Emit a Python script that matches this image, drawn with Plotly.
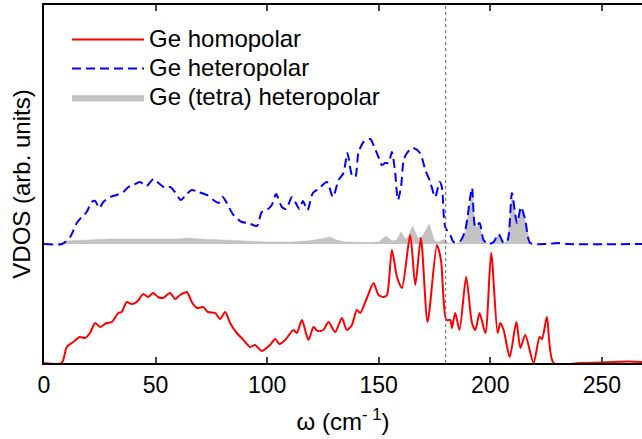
import plotly.graph_objects as go

# ---- data ----
omega_red = [0, 7.9, 10.2, 13.1, 16.1, 18.4, 20.6, 22.9, 25.1, 28.1, 30.4, 33.3, 34.8, 37.1, 39.3, 41.6,
             44.5, 46.6, 48.9, 51.1, 53.4, 56.5, 58.7, 61, 64, 66.2, 68.5, 71.3, 73.5, 76.7, 78.9, 81.2,
             83.4, 86.4, 89.0, 92.4, 94.6, 97.6, 101.3, 103.6, 105.5, 108.1, 111.8, 113.3, 115.6, 118.5,
             120.8, 122.6, 125.2, 127.5, 130.5, 133.5, 135.7, 138, 140.2, 141.7, 144.7, 147.7, 149.9,
             152.2, 153.7, 155.9, 158.2, 160.4, 164.1, 166.4, 168.9, 171.9, 176.1, 177.9, 180.3, 182.1,
             182.8, 184.3, 186.2, 189.2, 191.8, 193.3, 195.2, 197.8, 200.4, 203.3, 204.5, 206, 208.7,
             211.7, 213.5, 215.7, 219.4, 222.1, 223.2, 225.4, 228.4, 240, 255, 262, 268]
vdos_red = [0, 0, 0.16, 0.21, 0.26, 0.25, 0.30, 0.40, 0.36, 0.40, 0.41, 0.50, 0.51, 0.61, 0.59, 0.61,
            0.69, 0.66, 0.70, 0.66, 0.65, 0.70, 0.64, 0.68, 0.71, 0.61, 0.55, 0.56, 0.51, 0.50, 0.44, 0.51,
            0.40, 0.30, 0.24, 0.16, 0.18, 0.12, 0.18, 0.24, 0.19, 0.23, 0.33, 0.30, 0.43, 0.23,
            0.36, 0.32, 0.33, 0.41, 0.31, 0.45, 0.33, 0.38, 0.53, 0.50, 0.65, 0.80, 0.68,
            0.66, 0.68, 1.13, 0.86, 0.75, 1.28, 0.78, 1.25, 0.41, 1.18, 1.03, 0.43, 0.43,
            0.35, 0.50, 0.33, 0.86, 0.40, 0.33, 0.50, 0.30, 1.10, 0.30, 0.40, 0.33, 0.06,
            0.41, 0.15, 0.28, 0.0, 0.26, 0.24, 0.46, 0.0, 0.0, 0.01, 0.015, 0.01]

omega_blue = [0, 8, 11.7, 14.7, 16.9, 19.1, 21.4, 22.9, 24.8, 26.6, 29.6, 32.6, 35.6, 37.8, 40, 43, 46, 49,
              51.3, 54.3, 56.5, 58.7, 61.3, 64, 66.2, 69.2, 73, 75.9, 78.2, 80.1, 81.9, 84.9, 88.7, 91.6,
              95.4, 97.6, 99.9, 102.1, 104.0, 106.6, 108.5, 111.1, 112.6, 114.5, 116.0, 118.1, 120.5,
              123.0, 126.8, 129.5, 132.0, 134.2, 136.0, 138.0, 139.5, 140.9, 143.2, 146.2, 148.0, 149.9,
              151.4, 152.9, 154.4, 155.9, 157.4, 158.6, 160.0, 161.2, 162.7, 165.3, 168.5, 170.9, 173.1,
              175.3, 177.3, 178.3, 179.8, 182.1, 183.5, 186.5, 188.8, 191.8, 193.3, 195.2, 197.0, 199.2,
              201.5, 203.7, 206.0, 207.8, 209.7, 212.0, 213.8, 215.7, 217.9, 225, 230, 235, 268]
vdos_blue = [0, 0, 0.07, 0.21, 0.27, 0.32, 0.42, 0.43, 0.36, 0.42, 0.47, 0.49, 0.52, 0.57, 0.59, 0.62, 0.58, 0.65,
             0.61, 0.56, 0.57, 0.52, 0.44, 0.50, 0.54, 0.52, 0.49, 0.44, 0.41, 0.47, 0.41, 0.29, 0.22, 0.21,
             0.18, 0.32, 0.34, 0.39, 0.50, 0.37, 0.35, 0.47, 0.42, 0.35, 0.43, 0.34, 0.51,
             0.55, 0.62, 0.47, 0.64, 0.71, 0.91, 0.69, 0.67, 0.91, 1.02, 1.05, 0.97, 0.87,
             0.79, 0.81, 0.81, 0.92, 0.71, 0.44, 0.57, 0.84, 0.91, 0.96, 0.91, 0.74, 0.62,
             0.47, 0.62, 0.57, 0.17, 0.09, 0.02, 0.03, 0.14, 0.56, 0.17, 0.21, 0.04, 0.0,
             0.02, 0.10, 0.01, 0.04, 0.51, 0.21, 0.37, 0.24, 0.01, 0.0, 0.01, 0.0, 0.0]

omega_gray = [0, 7, 10, 20, 30, 40, 50, 60, 65, 70, 80, 90, 100, 110, 118, 124, 128, 131, 135, 145, 150,
              153.2, 156, 158, 160, 162, 163, 165.2, 167.5, 169.5, 172.6, 175, 177, 179.4, 181, 184, 186.5,
              188.8, 191.8, 193.3, 195.2, 197.0, 199.2, 201.5, 203.7, 206.0, 207.8, 209.7, 212.0, 213.8,
              215.7, 217.9, 268]
vdos_gray = [0, 0, 0.03, 0.04, 0.05, 0.05, 0.05, 0.05, 0.06, 0.05, 0.04, 0.03, 0.02, 0.02, 0.03, 0.05, 0.07,
             0.04, 0.02, 0.015, 0.02, 0.08, 0.03, 0.04, 0.12, 0.05, 0.06, 0.18, 0.06, 0.07, 0.20, 0.03, 0.02,
             0.05, 0.01, 0.0, 0.02, 0.12, 0.52, 0.16, 0.19, 0.03, 0.0, 0.02, 0.09, 0.01, 0.03, 0.48, 0.20,
             0.35, 0.22, 0.0, 0]

series_names = ["Ge homopolar", "Ge heteropolar", "Ge (tetra) heteropolar"]
hetero_offset = 1.19
omega_cut = 180
x_ticks = [0, 50, 100, 150, 200, 250]

FONT = "Liberation Sans, Arial, sans-serif"


def big(label):
    return "<span style='font-size:24px'>" + label + "</span>"


fig = go.Figure()

# invisible baseline for the gray fill
fig.add_trace(go.Scatter(x=omega_gray, y=[hetero_offset] * len(omega_gray), mode="lines",
                         line=dict(width=0, color="rgba(0,0,0,0)"), showlegend=False, hoverinfo="skip"))
fig.add_trace(go.Scatter(x=omega_gray, y=[v + hetero_offset for v in vdos_gray], mode="lines",
                         name=big(series_names[2]), fill="tonexty",
                         fillcolor="rgba(185,185,185,0.85)",
                         line=dict(width=0.5, color="rgba(185,185,185,0.9)")))
fig.add_trace(go.Scatter(x=omega_blue, y=[v + hetero_offset for v in vdos_blue], mode="lines",
                         name=big(series_names[1]),
                         line=dict(color="#0000ff", width=2, dash="9px,5px", shape="spline", smoothing=0.7)))
fig.add_trace(go.Scatter(x=omega_red, y=vdos_red, mode="lines", name=big(series_names[0]),
                         line=dict(color="#ff0000", width=2, shape="spline", smoothing=0.7)))

fig.add_shape(type="line", x0=omega_cut, x1=omega_cut, y0=0, y1=1, xref="x", yref="paper",
              line=dict(color="#777777", width=1.2, dash="dot"))

fig.update_layout(
    width=642, height=439,
    margin=dict(l=44, r=0, t=5, b=76),
    paper_bgcolor="white", plot_bgcolor="white",
    font=dict(family=FONT, size=23, color="black"),
    showlegend=True,
    legend=dict(x=0.0385, y=0.958, xanchor="left", yanchor="top", bgcolor="rgba(0,0,0,0)",
                font=dict(size=20), traceorder="reversed", itemwidth=72, tracegroupgap=0),
    xaxis=dict(range=[0, 268], tickvals=x_ticks, ticks="inside", ticklen=6, tickwidth=1.5,
               showline=True, linecolor="black", linewidth=2, mirror="ticks", showgrid=False,
               zeroline=False, automargin=False, tickfont=dict(size=23),
               title=dict(text="ω (cm<sup>- 1</sup>)", font=dict(size=24), standoff=17)),
    yaxis=dict(range=[0, 3.58], showticklabels=False, ticks="", showline=True, linecolor="black",
               linewidth=2, showgrid=False, zeroline=False, automargin=False,
               title=dict(text="VDOS (arb. units)", font=dict(size=24), standoff=5)),
)

fig.write_html("out.html", post_script="document.body.style.margin='0';",
               config={"displayModeBar": False})
